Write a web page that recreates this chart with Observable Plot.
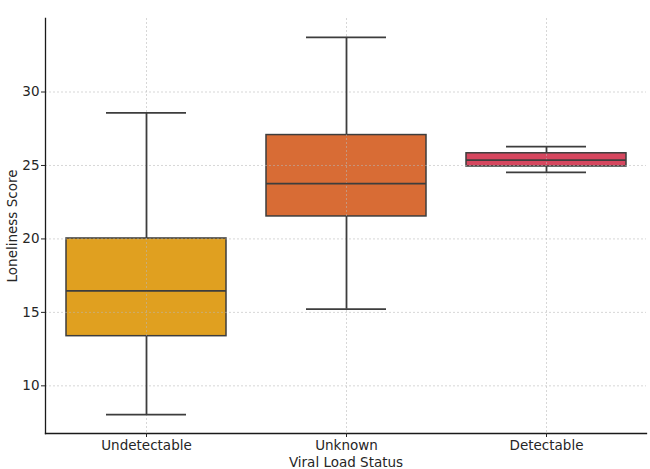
<!DOCTYPE html>
<html>
<head>
<meta charset="utf-8">
<script src="https://cdn.jsdelivr.net/npm/d3@7"></script>
<script src="https://cdn.jsdelivr.net/npm/@observablehq/plot@0.6"></script>
<style>
  html, body { margin: 0; padding: 0; background: #fff; }
  #chart svg { display: block; }
</style>
</head>
<body>
<div id="chart"></div>
<script>
// Box-plot summaries of loneliness score by viral load status
const categories = ["Undetectable", "Unknown", "Detectable"];
const whiskerLow = [8.04, 15.22, 24.53];
const q1 = [13.38, 21.53, 24.93];
const median = [16.46, 23.76, 25.36];
const q3 = [20.03, 27.07, 25.83];
const whiskerHigh = [28.58, 33.72, 26.28];
const fills = ["#e0a020", "#d86c35", "#d6475f"];
const yTicks = [10, 15, 20, 25, 30];

const rows = categories.map((c, i) => ({
  status: c,
  lo: whiskerLow[i],
  q1: q1[i],
  med: median[i],
  q3: q3[i],
  hi: whiskerHigh[i],
  fill: fills[i]
}));

// matplotlib-style 5% padding around the whisker extent
const yMin = d3.min(whiskerLow), yMax = d3.max(whiskerHigh);
const pad = (yMax - yMin) * 0.05;

const edge = "#3d3d3d";
const gridStyle = {stroke: "#b8b8b8", strokeOpacity: 0.7, strokeWidth: 0.8, strokeDasharray: "2,2"};

const chart = Plot.plot({
  width: 650,
  height: 469,
  marginLeft: 45,
  marginRight: 4,
  marginTop: 18,
  marginBottom: 36,
  style: {fontFamily: "DejaVu Sans", fontSize: "13.5px", color: "#262626", background: "#fff"},
  x: {type: "band", domain: categories, paddingInner: 0.2, paddingOuter: 0.1},
  y: {domain: [yMin - pad, yMax + pad]},
  marks: [
    // interquartile boxes
    Plot.barY(rows, {x: "status", y1: "q1", y2: "q3", fill: "fill", stroke: edge, strokeWidth: 1.5}),
    // dashed grid drawn over the boxes
    Plot.gridY(yTicks, gridStyle),
    Plot.gridX(categories, gridStyle),
    // whisker stems
    Plot.ruleX(rows, {x: "status", y1: "lo", y2: "q1", stroke: edge, strokeWidth: 1.8}),
    Plot.ruleX(rows, {x: "status", y1: "q3", y2: "hi", stroke: edge, strokeWidth: 1.8}),
    // medians
    Plot.tickY(rows, {x: "status", y: "med", stroke: edge, strokeWidth: 1.8}),
    // whisker caps
    Plot.tickY(rows, {x: "status", y: "lo", stroke: edge, strokeWidth: 1.8, inset: 40}),
    Plot.tickY(rows, {x: "status", y: "hi", stroke: edge, strokeWidth: 1.8, inset: 40}),
    // spines
    Plot.frame({anchor: "left", stroke: "#1a1a1a", strokeWidth: 1.3}),
    Plot.frame({anchor: "bottom", stroke: "#1a1a1a", strokeWidth: 1.3}),
    Plot.axisY({ticks: yTicks, tickSize: 4, tickPadding: 2, label: "Loneliness Score", labelAnchor: "center", labelArrow: "none", labelOffset: 38}),
    Plot.axisX({tickSize: 4, tickPadding: 3, label: "Viral Load Status", labelAnchor: "center", labelArrow: "none", labelOffset: 33})
  ]
});

document.getElementById("chart").appendChild(chart);
</script>
</body>
</html>
